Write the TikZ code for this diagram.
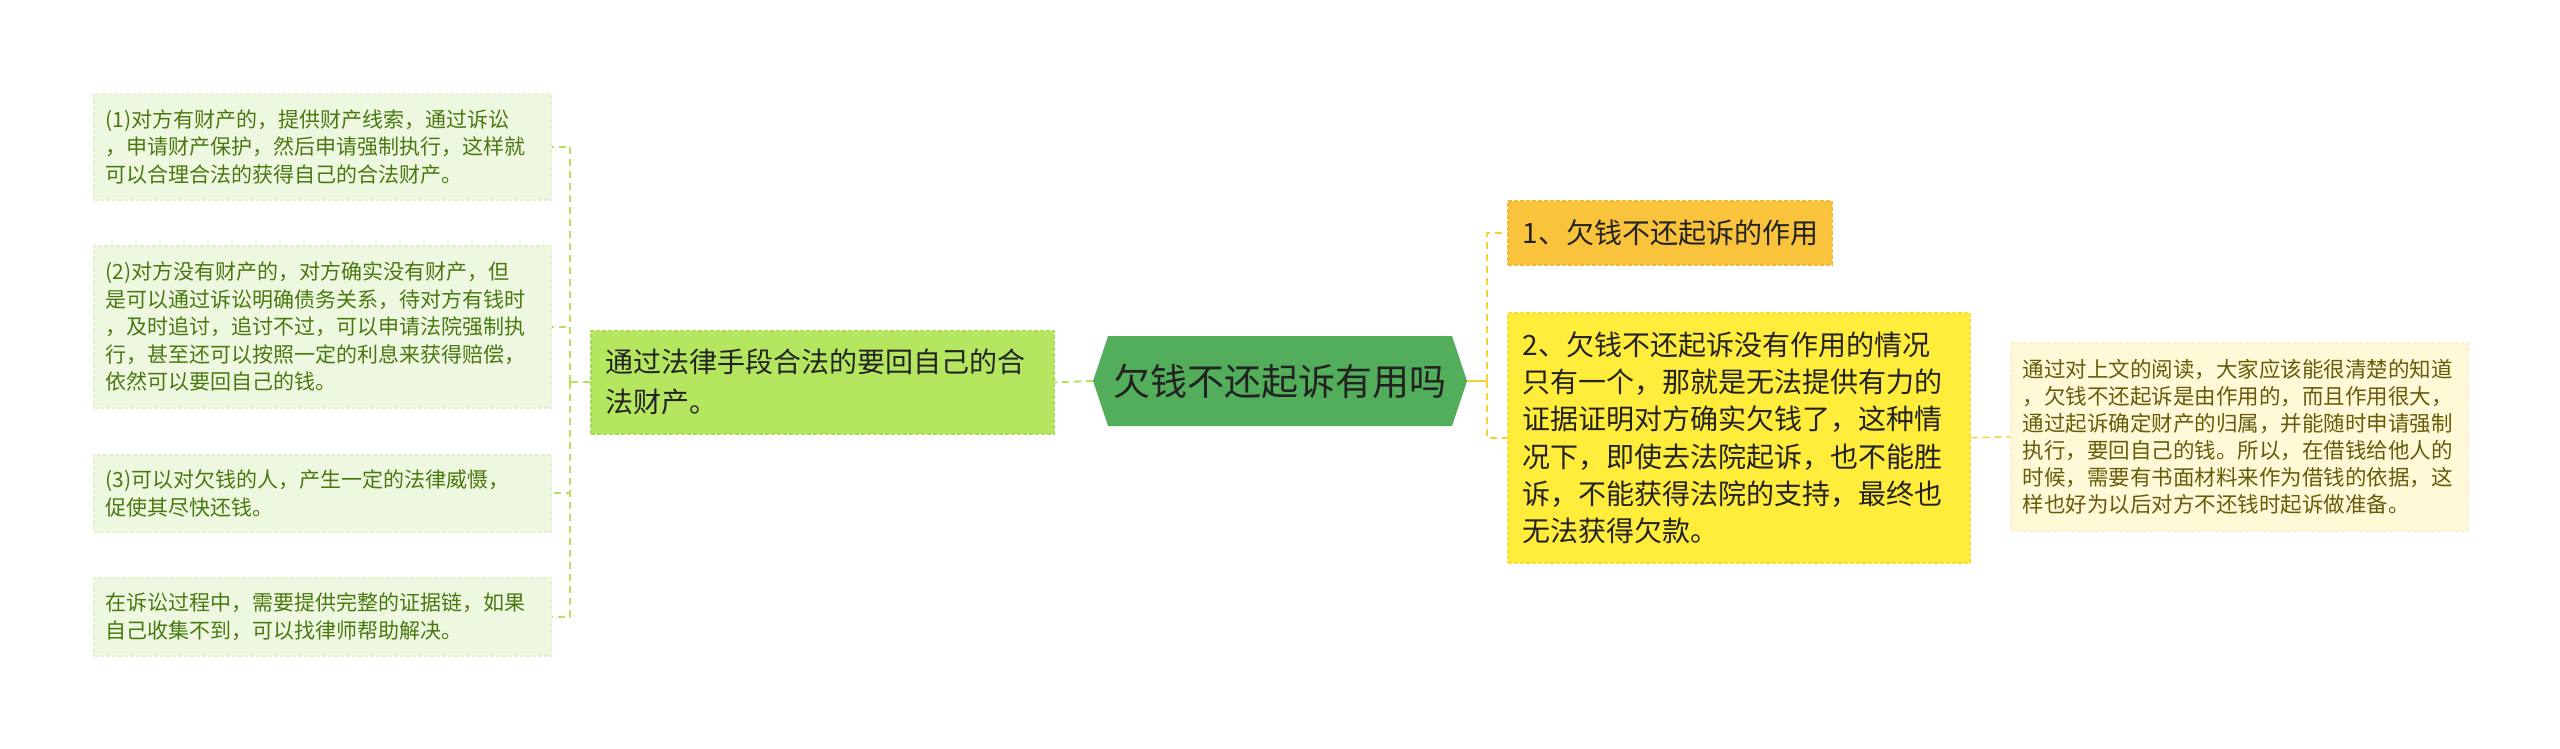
\documentclass[tikz,border=0pt]{standalone}
\usepackage{fontspec}
\setmainfont{Noto Sans CJK SC}
\usetikzlibrary{calc}
\definecolor{leaffill}{HTML}{EEF8E1}
\definecolor{leafborder}{HTML}{E2F2CE}
\definecolor{leaftext}{HTML}{4A7810}
\definecolor{subfill}{HTML}{B5E660}
\definecolor{subborder}{HTML}{A8DA52}
\definecolor{rootfill}{HTML}{52AE5A}
\definecolor{darktext}{HTML}{222222}
\definecolor{bonefill}{HTML}{F9C33B}
\definecolor{boneborder}{HTML}{F4B92C}
\definecolor{btwofill}{HTML}{FFEC3B}
\definecolor{btwoborder}{HTML}{F7DE30}
\definecolor{bthreefill}{HTML}{FFF9D8}
\definecolor{bthreeborder}{HTML}{FAF2CC}
\definecolor{bthreetext}{HTML}{665C0A}
\definecolor{gline}{HTML}{B5E360}
\definecolor{yline}{HTML}{F8D03C}
\tikzset{
  box/.style={anchor=north west, align=left, inner ysep=2pt, dash pattern=on 4pt off 2pt, line width=1.5pt},
  leaf/.style={box, draw=leafborder, fill=leaffill, text=leaftext,
    font=\fontsize{21pt}{27.5pt}\selectfont, inner xsep=12pt,
    minimum width=457pt, text width=433pt},
  subbox/.style={box, draw=subborder, fill=subfill, text=darktext,
    font=\fontsize{28pt}{40pt}\selectfont, inner xsep=15pt,
    minimum width=463pt, text width=433pt},
  yone/.style={box, draw=boneborder, fill=bonefill, text=darktext,
    font=\fontsize{28pt}{37pt}\selectfont, inner xsep=15pt,
    minimum width=324pt, text width=294pt},
  ytwo/.style={box, draw=btwoborder, fill=btwofill, text=darktext,
    font=\fontsize{28pt}{37.3pt}\selectfont, inner xsep=15pt,
    minimum width=462pt, text width=432pt},
  ythree/.style={box, draw=bthreeborder, fill=bthreefill, text=bthreetext,
    font=\fontsize{21.5pt}{27pt}\selectfont, inner xsep=12pt,
    minimum width=457pt, text width=433pt},
  rootbox/.style={minimum width=374pt, minimum height=90pt, inner sep=0pt,
    text=darktext, font=\fontsize{37pt}{40pt}\selectfont,
    path picture={\fill[rootfill] (path picture bounding box.west)
      -- ([xshift=15pt]path picture bounding box.north west)
      -- ([xshift=-15pt]path picture bounding box.north east)
      -- (path picture bounding box.east)
      -- ([xshift=-15pt]path picture bounding box.south east)
      -- ([xshift=15pt]path picture bounding box.south west) -- cycle;}},
  gconn/.style={draw=gline, line width=2pt, dash pattern=on 7pt off 5pt},
  yconn/.style={draw=yline, line width=2.5pt, dash pattern=on 7pt off 5pt},
}
\begin{document}
\begin{tikzpicture}[x=1pt,y=-1pt]
\fill[white] (0,0) rectangle (2560,749);
\useasboundingbox (0,0) rectangle (2560,749);

% left leaves
\node[leaf, minimum height=106pt] (l1) at (93,93) {(1)对方有财产的，提供财产线索，通过诉讼\\，申请财产保护，然后申请强制执行，这样就\\可以合理合法的获得自己的合法财产。};
\node[leaf, minimum height=162pt] (l2) at (93,245) {(2)对方没有财产的，对方确实没有财产，但\\是可以通过诉讼明确债务关系，待对方有钱时\\，及时追讨，追讨不过，可以申请法院强制执\\行，甚至还可以按照一定的利息来获得赔偿，\\依然可以要回自己的钱。};
\node[leaf, minimum height=77pt] (l3) at (93,454) {(3)可以对欠钱的人，产生一定的法律威慑，\\促使其尽快还钱。};
\node[leaf, minimum height=78pt] (l4) at (93,577) {在诉讼过程中，需要提供完整的证据链，如果\\自己收集不到，可以找律师帮助解决。};

% sub node
\node[subbox, minimum height=103pt] (sub) at (590,330) {通过法律手段合法的要回自己的合\\法财产。};

% root
\node[rootbox] (root) at (1280,381) {欠钱不还起诉有用吗};

% right boxes
\node[yone, minimum height=64pt] (b1) at (1507,200) {1、欠钱不还起诉的作用};
\node[ytwo, minimum height=250pt] (b2) at (1507,312) {2、欠钱不还起诉没有作用的情况\\只有一个，那就是无法提供有力的\\证据证明对方确实欠钱了，这种情\\况下，即使去法院起诉，也不能胜\\诉，不能获得法院的支持，最终也\\无法获得欠款。};
\node[ythree, minimum height=188pt] (b3) at (2010,342) {通过对上文的阅读，大家应该能很清楚的知道\\，欠钱不还起诉是由作用的，而且作用很大，\\通过起诉确定财产的归属，并能随时申请强制\\执行，要回自己的钱。所以，在借钱给他人的\\时候，需要有书面材料来作为借钱的依据，这\\样也好为以后对方不还钱时起诉做准备。};

% connectors left
\coordinate (gb) at ($(sub.west)+(-20,0)$);
\draw[gconn] (root.west) -- (sub.east);
\draw[gconn] (sub.west) -- (gb);
\draw[gconn] (gb) |- (l1.east);
\draw[gconn] (gb) |- (l2.east);
\draw[gconn] (gb) |- (l3.east);
\draw[gconn] (gb) |- (l4.east);

% connectors right
\coordinate (yb) at ($(root.east)+(20,0)$);
\draw[draw=yline, line width=2.5pt] (root.east) -- (yb);
\draw[yconn] (yb) |- (b1.west);
\draw[yconn] (yb) |- (b2.west);
\draw[yconn, line width=1.5pt] (b2.east) -- (b3.west);
\end{tikzpicture}
\end{document}
